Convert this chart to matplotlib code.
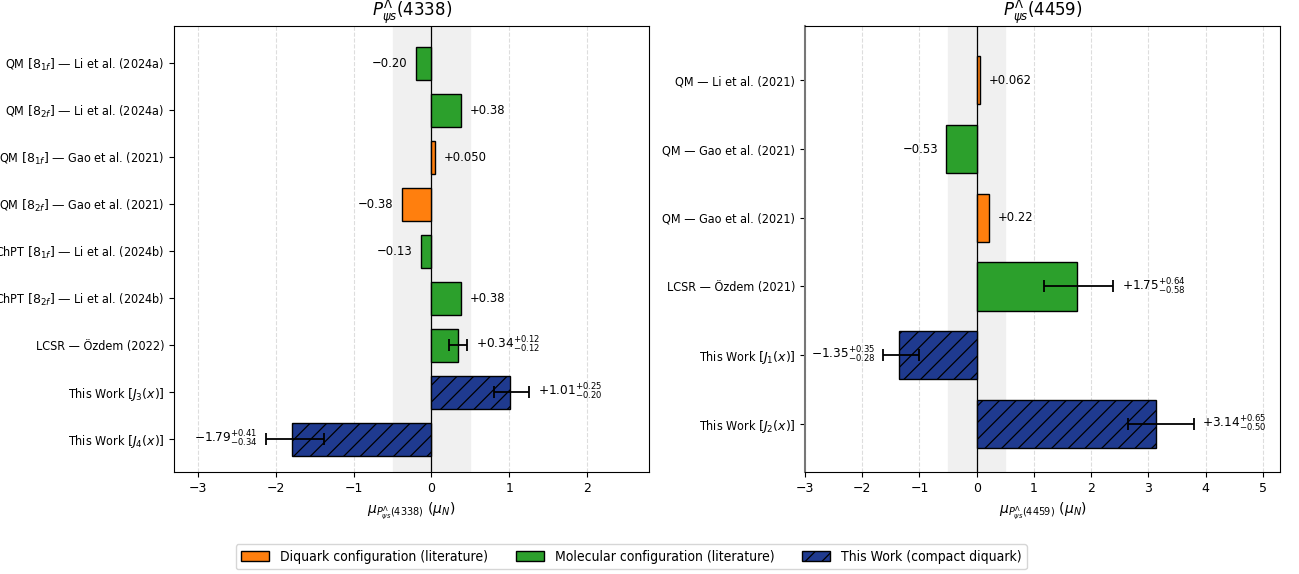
import matplotlib
matplotlib.use("Agg")
import matplotlib.pyplot as plt
from matplotlib.patches import Patch

# ---- P_psis^Lambda(4338) ----
labels_4338 = [
    r"QM $[8_{1f}]$ — Li et al. (2024a)",
    r"QM $[8_{2f}]$ — Li et al. (2024a)",
    r"QM $[8_{1f}]$ — Gao et al. (2021)",
    r"QM $[8_{2f}]$ — Gao et al. (2021)",
    r"ChPT $[8_{1f}]$ — Li et al. (2024b)",
    r"ChPT $[8_{2f}]$ — Li et al. (2024b)",
    "LCSR — Özdem (2022)",
    r"This Work $[J_3(x)]$",
    r"This Work $[J_4(x)]$",
]
values_4338 = [-0.20, 0.38, 0.050, -0.38, -0.13, 0.38, 0.34, 1.01, -1.79]
err_plus_4338 = [None, None, None, None, None, None, 0.12, 0.25, 0.41]
err_minus_4338 = [None, None, None, None, None, None, 0.12, 0.20, 0.34]
decimals_4338 = [2, 2, 3, 2, 2, 2, 2, 2, 2]
kind_4338 = ["mol", "mol", "diq", "diq", "mol", "mol", "mol", "work", "work"]

# ---- P_psis^Lambda(4459) ----
labels_4459 = [
    "QM — Li et al. (2021)",
    "QM — Gao et al. (2021)",
    "QM — Gao et al. (2021)",
    "LCSR — Özdem (2021)",
    r"This Work $[J_1(x)]$",
    r"This Work $[J_2(x)]$",
]
values_4459 = [0.062, -0.53, 0.22, 1.75, -1.35, 3.14]
err_plus_4459 = [None, None, None, 0.64, 0.35, 0.65]
err_minus_4459 = [None, None, None, 0.58, 0.28, 0.50]
decimals_4459 = [3, 2, 2, 2, 2, 2]
kind_4459 = ["diq", "mol", "diq", "mol", "work", "work"]

colors = {"diq": "#ff7f0e", "mol": "#2ca02c", "work": "#1f3a8f"}
hatches = {"diq": "", "mol": "", "work": "//"}
legend_text = {
    "diq": "Diquark configuration (literature)",
    "mol": "Molecular configuration (literature)",
    "work": "This Work (compact diquark)",
}

plt.rcParams["font.family"] = ["DejaVu Sans"]
plt.rcParams["hatch.linewidth"] = 0.9

fig = plt.figure(figsize=(12.99, 5.74), dpi=100)
ax1 = fig.add_axes([0.1340, 0.1777, 0.3657, 0.7770])
ax2 = fig.add_axes([0.6197, 0.1777, 0.3657, 0.7770])


def fmt_num(v, d):
    s = f"{v:+.{d}f}"
    return s.replace("-", "\u2212")


def draw_panel(ax, labels, values, ep, em, decs, kinds, xlim, xticks, title, xlabel):
    ax.axvspan(-0.5, 0.5, color="#f0f0f0", zorder=0)
    ax.grid(axis="x", linestyle="--", color="#dddddd", linewidth=0.8, zorder=0.5)
    ax.set_axisbelow(True)
    ypos = list(range(len(values)))
    for y, v, p, m, d, k in zip(ypos, values, ep, em, decs, kinds):
        ax.barh(y, v, height=0.7, color=colors[k], edgecolor="black",
                linewidth=1.0, hatch=hatches[k], zorder=2)
        if p is not None:
            ax.errorbar(v, y, xerr=[[m], [p]], fmt="none", ecolor="black",
                        elinewidth=1.3, capsize=4, capthick=1.3, zorder=3)
            txt = "$" + fmt_num(v, d).replace("\u2212", "-") + "^{+%.2f}_{-%.2f}$" % (p, m)
            size = 8.7
            lo, hi = v - m, v + p
        else:
            txt = fmt_num(v, d)
            size = 9.3
            lo, hi = v, v
        if v >= 0:
            ax.annotate(txt, (hi, y), xytext=(6, 0), textcoords="offset points",
                        ha="left", va="center", fontsize=size,
                        fontstretch="condensed", zorder=4)
        else:
            ax.annotate(txt, (lo, y), xytext=(-6, 0), textcoords="offset points",
                        ha="right", va="center", fontsize=size,
                        fontstretch="condensed", zorder=4)
    ax.axvline(0, color="black", linewidth=0.9, zorder=1.5)
    ax.set_yticks(ypos)
    ax.set_yticklabels(labels, fontsize=9, fontstretch="condensed")
    ax.set_ylim(len(values) - 1 + 0.70, -0.79)
    ax.set_xlim(*xlim)
    ax.set_xticks(xticks)
    ax.tick_params(axis="x", labelsize=9)
    ax.set_title(title, fontsize=12)
    ax.set_xlabel(xlabel, fontsize=10)


draw_panel(ax1, labels_4338, values_4338, err_plus_4338, err_minus_4338,
           decimals_4338, kind_4338, (-3.31, 2.80), range(-3, 3),
           r"$P_{\psi s}^{\Lambda}(4338)$",
           r"$\mu_{P_{\psi s}^{\Lambda}(4338)}$ $(\mu_N)$")
draw_panel(ax2, labels_4459, values_4459, err_plus_4459, err_minus_4459,
           decimals_4459, kind_4459, (-3.0, 5.3), range(-3, 6),
           r"$P_{\psi s}^{\Lambda}(4459)$",
           r"$\mu_{P_{\psi s}^{\Lambda}(4459)}$ $(\mu_N)$")
ax2.spines["left"].set_color("#777777")
ax2.spines["left"].set_linewidth(1.5)

handles = [Patch(facecolor=colors[k], edgecolor="black", hatch=hatches[k],
                 label=legend_text[k]) for k in ["diq", "mol", "work"]]
fig.legend(handles=handles, loc="center", bbox_to_anchor=(0.486, 0.030),
           ncol=3, frameon=True,
           prop={"size": 10, "stretch": "condensed", "family": "DejaVu Sans"})

fig.savefig("out.png", dpi=100)
